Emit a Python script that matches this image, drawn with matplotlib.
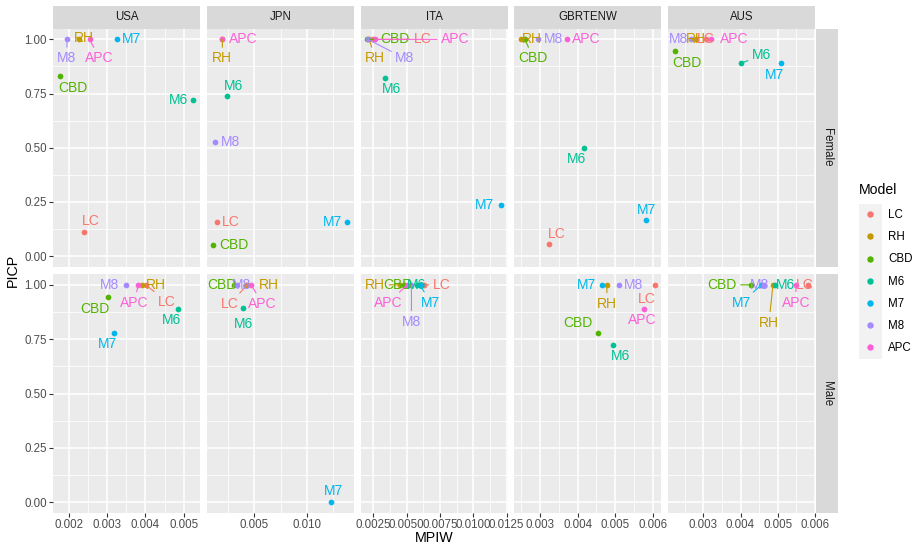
#!/usr/bin/env python3
"""
PICP against MPIW for each mortality model, faceted by country (columns)
and sex (rows), with free x scales per column and repelled model labels.
"""

import matplotlib

matplotlib.use("Agg")
import matplotlib.pyplot as plt
from matplotlib.patches import Rectangle

FONT = "Liberation Sans"
W, H = 916, 549

countries = ["USA", "JPN", "ITA", "GBRTENW", "AUS"]
sexes = ["Female", "Male"]
models = ["LC", "RH", "CBD", "M6", "M7", "M8", "APC"]
model_colors = ["#F8766D", "#C49A00", "#53B400", "#00C094", "#00B6EB", "#A58AFF", "#FB61D7"]

# MPIW / PICP per panel, in the order of `models`
usa_female_mpiw = [0.00239, 0.00226, 0.00176, 0.00525, 0.00325, 0.00195, 0.00254]
usa_female_picp = [0.111, 1.0, 0.833, 0.722, 1.0, 1.0, 1.0]
usa_male_mpiw = [0.00401, 0.00390, 0.00302, 0.00486, 0.00319, 0.00348, 0.00381]
usa_male_picp = [1.0, 1.0, 0.944, 0.889, 0.778, 1.0, 1.0]

jpn_female_mpiw = [0.00145, 0.00195, 0.00110, 0.00237, 0.01382, 0.00128, 0.00192]
jpn_female_picp = [0.158, 1.0, 0.053, 0.737, 0.158, 0.526, 1.0]
jpn_male_mpiw = [0.00430, 0.00420, 0.00310, 0.00390, 0.01230, 0.00330, 0.00470]
jpn_male_picp = [1.0, 1.0, 1.0, 0.895, 0.0, 1.0, 1.0]

ita_female_mpiw = [0.00250, 0.00220, 0.00205, 0.00340, 0.01207, 0.00210, 0.00260]
ita_female_picp = [1.0, 1.0, 1.0, 0.822, 0.234, 1.0, 1.0]
ita_male_mpiw = [0.00630, 0.00450, 0.00480, 0.00577, 0.00600, 0.00537, 0.00505]
ita_male_picp = [1.0, 1.0, 1.0, 1.0, 1.0, 1.0, 1.0]

gbr_female_mpiw = [0.00325, 0.00249, 0.00260, 0.00417, 0.00583, 0.00294, 0.00373]
gbr_female_picp = [0.056, 1.0, 1.0, 0.5, 0.167, 1.0, 1.0]
gbr_male_mpiw = [0.00605, 0.00478, 0.00455, 0.00495, 0.00465, 0.00511, 0.00578]
gbr_male_picp = [1.0, 1.0, 0.778, 0.722, 1.0, 1.0, 0.889]

aus_female_mpiw = [0.00306, 0.00280, 0.00223, 0.00400, 0.00509, 0.00266, 0.00320]
aus_female_picp = [1.0, 1.0, 0.944, 0.889, 0.889, 1.0, 1.0]
aus_male_mpiw = [0.00582, 0.00487, 0.00428, 0.00492, 0.00456, 0.00464, 0.00549]
aus_male_picp = [1.0, 1.0, 1.0, 1.0, 1.0, 1.0, 1.0]

panels = {
    ("USA", "Female"): (usa_female_mpiw, usa_female_picp),
    ("USA", "Male"): (usa_male_mpiw, usa_male_picp),
    ("JPN", "Female"): (jpn_female_mpiw, jpn_female_picp),
    ("JPN", "Male"): (jpn_male_mpiw, jpn_male_picp),
    ("ITA", "Female"): (ita_female_mpiw, ita_female_picp),
    ("ITA", "Male"): (ita_male_mpiw, ita_male_picp),
    ("GBRTENW", "Female"): (gbr_female_mpiw, gbr_female_picp),
    ("GBRTENW", "Male"): (gbr_male_mpiw, gbr_male_picp),
    ("AUS", "Female"): (aus_female_mpiw, aus_female_picp),
    ("AUS", "Male"): (aus_male_mpiw, aus_male_picp),
}

x_tick_labels = {
    "USA": ["0.002", "0.003", "0.004", "0.005"],
    "JPN": ["0.005", "0.010"],
    "ITA": ["0.0025", "0.0050", "0.0075", "0.0100", "0.0125"],
    "GBRTENW": ["0.003", "0.004", "0.005", "0.006"],
    "AUS": ["0.003", "0.004", "0.005", "0.006"],
}
y_tick_labels = ["0.00", "0.25", "0.50", "0.75", "1.00"]

# label placement (pixels from the point: right, up) and whether a segment is drawn
label_layout = {
    ("USA", "Female"): [(7, 11, 0), (5, 1, 0), (13, -12, 0), (-15, 0, 0), (15, 0, 0), (0, -19, 1), (10, -19, 1)],
    ("USA", "Male"): [(21, -17, 1), (14, 0, 0), (-13, -12, 0), (-7, -11, 0), (-7, -11, 0), (-16, 0, 0), (-4, -18, 1)],
    ("JPN", "Female"): [(14, 0, 0), (0, -19, 1), (20, 0, 0), (7, 10, 0), (-15, 0, 0), (15, 0, 0), (21, 0, 0)],
    ("JPN", "Male"): [(-17, -19, 1), (23, 0, 0), (-13, 0, 0), (1, -16, 0), (2, 11, 0), (5, 0, 0), (11, -19, 1)],
    ("ITA", "Female"): [(50, 0, 1), (6, -19, 1), (28, 0, 1), (6, -11, 0), (-16, 0, 0), (37, -19, 1), (81, 0, 1)],
    ("ITA", "Male"): [(18, 0, 1), (-25, 0, 1), (-6, 0, 0), (0, 0, 0), (11, -18, 1), (0, -37, 1), (-19, -18, 1)],
    ("GBRTENW", "Female"): [(7, 10, 0), (11, 0, 0), (8, -19, 1), (-7, -11, 0), (0, 10, 0), (16, 0, 0), (19, 0, 0)],
    ("GBRTENW", "Male"): [(-8, -14, 0), (0, -19, 1), (-20, 10, 0), (7, -11, 0), (-16, 0, 0), (14, 0, 0), (-2, -11, 0)],
    ("AUS", "Female"): [(0, 0, 0), (0, 0, 0), (12, -12, 0), (21, 8, 1), (-7, -12, 0), (-12, 0, 0), (23, 0, 0)],
    ("AUS", "Male"): [(-4, 0, 0), (-4, -38, 1), (-29, 0, 1), (11, 0, 0), (-20, -18, 1), (-5, 0, 0), (0, -18, 1)],
}

PANEL_LEFT = 53.0
PANEL_PITCH = 153.75
PANEL_W = 147.0
ROWS = [(28.5, 267.0), (274.0, 513.0)]
STRIP_TOP = (6.0, 28.5)
STRIP_RIGHT = (816.0, 838.0)

BG = "#EBEBEB"
STRIP_BG = "#D9D9D9"
TICK_TXT = "#4D4D4D"
TICK_COL = "#333333"


def rect(x0, y0, x1, y1):
    return [x0 / W, 1 - y1 / H, (x1 - x0) / W, (y1 - y0) / H]


def minor_breaks(major, lo, hi):
    step = major[1] - major[0]
    cands = [major[0] - step / 2] + [m + step / 2 for m in major]
    return [c for c in cands if lo <= c <= hi]


def strip(box, text, rotation=0):
    sax = fig.add_axes(rect(*box))
    sax.set_facecolor(STRIP_BG)
    sax.set_xticks([])
    sax.set_yticks([])
    for s in sax.spines.values():
        s.set_visible(False)
    sax.text(0.5, 0.5, text, transform=sax.transAxes, ha="center", va="center",
             rotation=rotation, fontsize=8.3, color="#1A1A1A", family=FONT)


plt.rcParams["font.family"] = FONT
fig = plt.figure(figsize=(W / 100, H / 100), dpi=100)

y_major = [float(t) for t in y_tick_labels]
y_minor = minor_breaks(y_major, -0.05, 1.05)

for j, country in enumerate(countries):
    x0 = PANEL_LEFT + j * PANEL_PITCH
    x1 = x0 + PANEL_W

    # free x scale per column, shared by both rows, 5% expansion
    all_x = panels[(country, "Female")][0] + panels[(country, "Male")][0]
    span = max(all_x) - min(all_x)
    xlo, xhi = min(all_x) - 0.05 * span, max(all_x) + 0.05 * span
    x_major = [float(t) for t in x_tick_labels[country]]
    x_minor = minor_breaks(x_major, xlo, xhi)

    strip((x0, STRIP_TOP[0], x1, STRIP_TOP[1]), country)

    for i, sex in enumerate(sexes):
        ytop, ybot = ROWS[i]
        ax = fig.add_axes(rect(x0, ytop, x1, ybot))
        ax.set_facecolor(BG)
        for s in ax.spines.values():
            s.set_visible(False)
        ax.set_xlim(xlo, xhi)
        ax.set_ylim(-0.05, 1.05)
        ax.set_xticks(x_major)
        ax.set_xticklabels(x_tick_labels[country])
        ax.set_xticks(x_minor, minor=True)
        ax.set_yticks(y_major)
        ax.set_yticklabels(y_tick_labels)
        ax.set_yticks(y_minor, minor=True)
        ax.set_axisbelow(True)
        ax.grid(which="major", color="white", linewidth=1.1)
        ax.grid(which="minor", color="white", linewidth=0.55)
        ax.tick_params(which="minor", length=0)
        ax.tick_params(which="major", length=2.7, width=0.8, color=TICK_COL,
                       labelsize=8.3, labelcolor=TICK_TXT, pad=1.8)
        ax.tick_params(axis="y", left=(j == 0), labelleft=(j == 0))
        ax.tick_params(axis="x", bottom=(i == 1), labelbottom=(i == 1))

        xs, ys = panels[(country, sex)]
        for k in range(len(models)):
            ax.scatter([xs[k]], [ys[k]], s=17, color=model_colors[k],
                       linewidths=0, zorder=3, clip_on=False)

        for k, model in enumerate(models):
            dx, dy, seg = label_layout[(country, sex)][k]
            arrow = None
            if seg:
                arrow = dict(arrowstyle="-", color=model_colors[k], lw=0.8,
                             shrinkA=1, shrinkB=0)
            ax.annotate(model, (xs[k], ys[k]), xytext=(dx * 0.72, dy * 0.72),
                        textcoords="offset points", ha="center", va="center",
                        fontsize=10, color=model_colors[k], zorder=4,
                        arrowprops=arrow, annotation_clip=False)

        if j == len(countries) - 1:
            strip((STRIP_RIGHT[0], ytop, STRIP_RIGHT[1], ybot), sex, rotation=-90)

fig.text(13 / W, 1 - 270.5 / H, "PICP", rotation=90, ha="center", va="center",
         fontsize=10.3, color="black")
fig.text(434.5 / W, 1 - 538.5 / H, "MPIW", ha="center", va="center",
         fontsize=10.3, color="black")

# legend drawn on a pixel-space overlay
lg = fig.add_axes([0, 0, 1, 1], facecolor="none")
lg.set_xlim(0, W)
lg.set_ylim(H, 0)
lg.axis("off")
lg.text(859, 190, "Model", ha="left", va="center", fontsize=10.1, color="black")
key_top, key_h = 204.0, 22.2
for k, model in enumerate(models):
    yc = key_top + key_h * (k + 0.5)
    lg.add_patch(Rectangle((859, key_top + key_h * k), 22.7, key_h,
                           facecolor="#F2F2F2", edgecolor="none"))
    lg.plot([870.3], [yc - 1], "o", markersize=4.6, color=model_colors[k],
            markeredgewidth=0)
    lg.text(870.3, yc + 0.5, "a", ha="center", va="center", fontsize=6,
            fontweight="bold", color=model_colors[k])
    lg.text(888, yc, model, ha="left", va="center", fontsize=8.3, color="black")

fig.savefig("out.png", dpi=100)
